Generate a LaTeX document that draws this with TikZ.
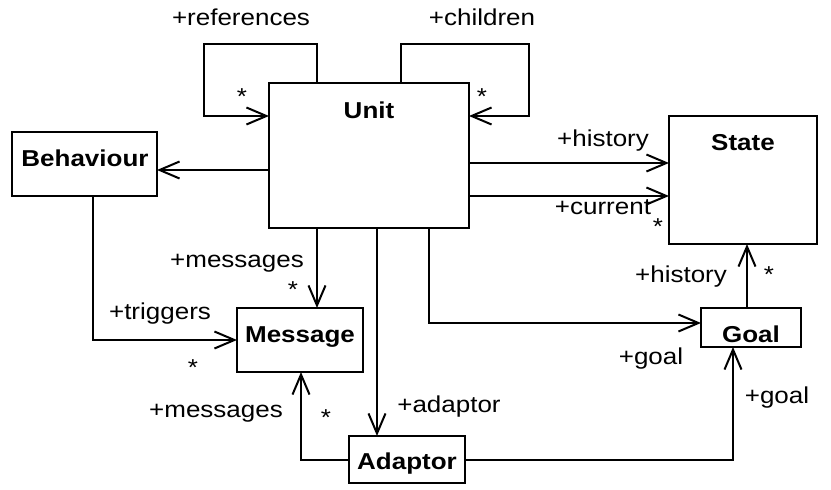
\documentclass[tikz,border=0pt]{standalone}
\usepackage{fontspec}
\setmainfont{Liberation Sans}[FakeStretch=1.13]
\usetikzlibrary{arrows.meta}
\begin{document}
\begin{tikzpicture}[x=1pt,y=-1pt,
  box/.style={draw,line width=2pt,inner sep=0pt,outer sep=0pt,anchor=north west},
  lbl/.style={inner sep=0pt,anchor=base,font=\fontsize{23}{27}\selectfont},
  title/.style={lbl,font=\fontsize{23}{27}\selectfont\bfseries},
  mult/.style={inner sep=0pt,anchor=north,font=\fontsize{23}{27}\selectfont},
  assoc/.style={line width=2pt,-{Straight Barb[length=20pt,width=17pt]}}]
\useasboundingbox (0,0) rectangle (831,490);
% boxes
\node[box,minimum width=200pt,minimum height=145pt] (unit) at (269,83) {};
\node[box,minimum width=145pt,minimum height=64pt] (beh) at (12,132) {};
\node[box,minimum width=148pt,minimum height=128pt] (state) at (669,116) {};
\node[box,minimum width=100pt,minimum height=39pt] (goal) at (701,308) {};
\node[box,minimum width=126pt,minimum height=64pt] (msg) at (237,308) {};
\node[box,minimum width=116pt,minimum height=47pt] (adapt) at (349,436) {};
% titles
\node[title] (tunit) at (369,118) {Unit};
\node[title] (tbeh) at (85,166) {Behaviour};
\node[title] (tstate) at (743,150) {State};
\node[title] (tgoal) at (751,342) {Goal};
\node[title] (tmsg) at (300,342) {Message};
\node[title] (tadapt) at (407,469) {Adaptor};
% helper coordinates
\coordinate (refA) at (317,44);
\coordinate (refB) at (204,116);
\coordinate (chA) at (401,44);
\coordinate (chB) at (529,116);
\coordinate (hy) at (0,163);
\coordinate (cy) at (0,196);
\coordinate (by) at (0,170);
\coordinate (gx) at (747,0);
\coordinate (ug) at (429,323);
\coordinate (umx) at (317,0);
\coordinate (bm) at (93,340);
\coordinate (uax) at (377,0);
\coordinate (am) at (301,460);
\coordinate (ag) at (733,460);
% connectors
\draw[assoc] (unit.north -| refA) -- (refA) -| (refB) -- (refB -| unit.west);
\draw[assoc] (unit.north -| chA) -- (chA) -| (chB) -- (chB -| unit.east);
\draw[assoc] (unit.west |- by) -- (beh.east |- by);
\draw[assoc] (unit.east |- hy) -- (state.west |- hy);
\draw[assoc] (unit.east |- cy) -- (state.west |- cy);
\draw[assoc] (goal.north -| gx) -- (state.south -| gx);
\draw[assoc] (unit.south -| ug) -- (ug) -- (goal.west |- ug);
\draw[assoc] (unit.south -| umx) -- (msg.north -| umx);
\draw[assoc] (beh.south -| bm) -- (bm) -- (msg.west |- bm);
\draw[assoc] (unit.south -| uax) -- (adapt.north -| uax);
\draw[assoc] (adapt.west |- am) -- (am) -- (msg.south -| am);
\draw[assoc] (adapt.east |- ag) -- (ag) -- (goal.south -| ag);
% role names and multiplicities
\node[lbl] (l1) at (241,25) {+references};
\node[lbl] (l2) at (482,25) {+children};
\node[mult] (m1) at (242,88) {*};
\node[mult] (m2) at (482,88) {*};
\node[lbl] (l3) at (603,146) {+history};
\node[lbl] (l4) at (603,214) {+current};
\node[mult] (m3) at (658,218) {*};
\node[lbl] (l5) at (681,282) {+history};
\node[mult] (m4) at (769,266) {*};
\node[lbl] (l6) at (651,364) {+goal};
\node[lbl] (l7) at (777,403) {+goal};
\node[lbl] (l8) at (449,412) {+adaptor};
\node[lbl] (l9) at (216,417) {+messages};
\node[mult] (m5) at (326,409) {*};
\node[mult] (m6) at (193,359) {*};
\node[lbl] (l10) at (160,319) {+triggers};
\node[lbl] (l11) at (237,267) {+messages};
\node[mult] (m7) at (293,281) {*};
\end{tikzpicture}
\end{document}
